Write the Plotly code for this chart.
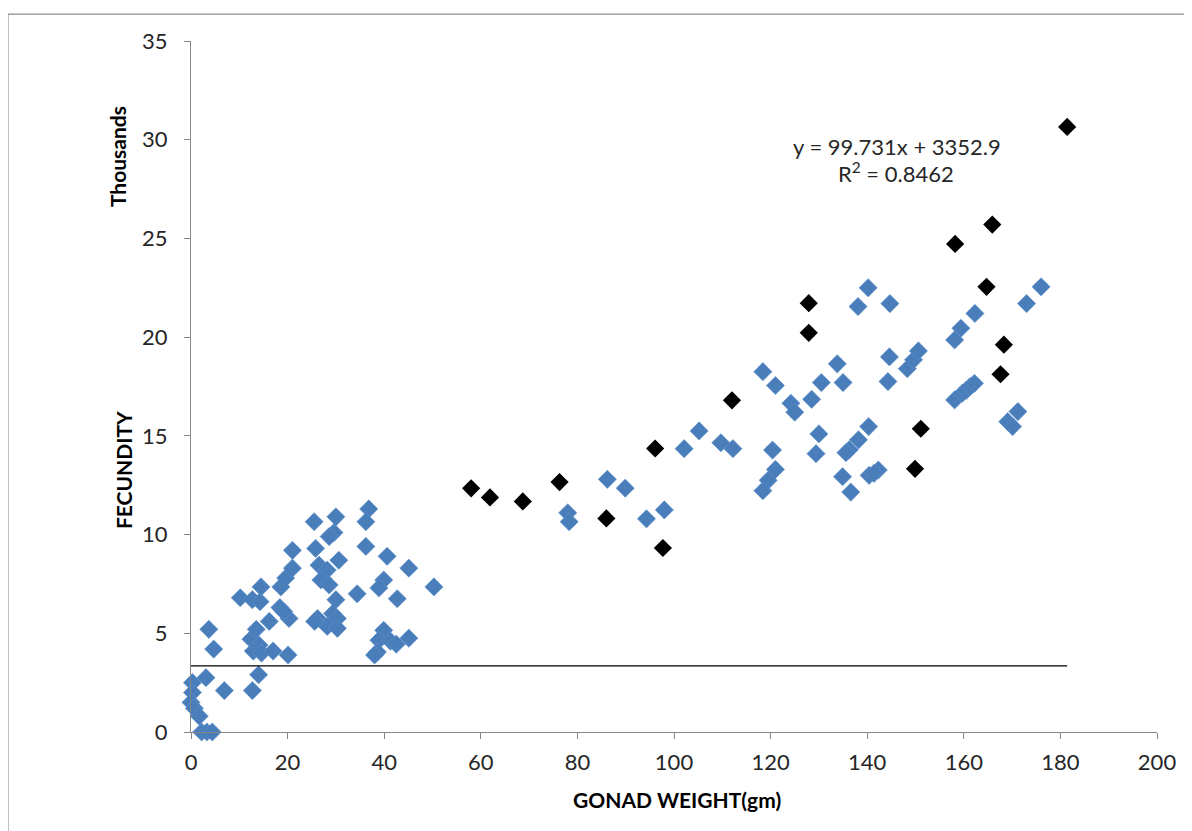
import plotly.graph_objects as go

# Fecundity (thousands) vs gonad weight (gm)
blue_x = [0.3, 3.1, 0.3, 0.0, 0.7, 1.7, 2.2, 3.3, 4.4, 6.9, 12.7, 14.0,
          3.7, 4.7,
          12.4, 13.5, 14.1, 12.9, 14.6, 17.0, 20.1, 16.2, 20.3, 18.4, 19.2,
          10.2, 12.7, 14.3, 14.5, 18.6, 19.6, 21.0, 21.0,
          25.5, 30.0, 36.8, 36.2, 29.6, 28.6, 25.8, 36.2, 40.6, 45.1, 30.6, 26.5, 28.2,
          26.9, 28.6, 39.9, 38.9, 34.4, 42.7, 50.3,
          30.0, 29.3, 30.3, 26.2, 28.2, 30.3, 25.6,
          39.9, 38.9, 41.3, 45.1, 38.6, 38.0, 42.5,
          78.0, 78.3, 86.2, 89.9, 94.3, 98.0,
          102.1, 105.2, 109.7, 112.2,
          118.4, 121.0, 124.2, 125.0, 128.5, 130.5, 133.8, 135.0,
          120.4, 121.0, 119.5, 118.4,
          130.0, 129.4,
          140.3, 138.2, 136.3, 135.6, 134.9, 136.6, 140.4, 142.3, 141.4,
          140.2, 138.1, 144.7, 144.6, 144.3, 148.3, 149.6, 150.6,
          162.3, 159.4, 158.1, 158.1, 159.7, 160.5, 161.3, 162.2,
          169.1, 170.1, 171.2, 176.0, 173.0]
blue_y = [2.5, 2.75, 2.0, 1.5, 1.2, 0.8, 0.0, 0.0, 0.0, 2.1, 2.1, 2.9,
          5.2, 4.2,
          4.7, 5.2, 4.4, 4.1, 4.0, 4.1, 3.9, 5.6, 5.75, 6.3, 6.1,
          6.8, 6.7, 6.6, 7.35, 7.35, 7.8, 8.3, 9.2,
          10.65, 10.9, 11.3, 10.65, 10.1, 9.9, 9.3, 9.4, 8.9, 8.3, 8.7, 8.45, 8.2,
          7.7, 7.45, 7.7, 7.3, 7.0, 6.75, 7.35,
          6.7, 6.0, 5.75, 5.75, 5.35, 5.25, 5.6,
          5.15, 4.65, 4.6, 4.75, 4.05, 3.9, 4.45,
          11.1, 10.65, 12.8, 12.35, 10.8, 11.25,
          14.35, 15.25, 14.65, 14.35,
          18.25, 17.55, 16.65, 16.2, 16.85, 17.7, 18.65, 17.7,
          14.28, 13.3, 12.75, 12.22,
          15.1, 14.1,
          15.47, 14.8, 14.3, 14.15, 12.93, 12.15, 13.0, 13.27, 13.1,
          22.5, 21.55, 21.7, 19.0, 17.75, 18.4, 18.85, 19.3,
          21.2, 20.45, 19.86, 16.82, 17.16, 17.3, 17.5, 17.66,
          15.72, 15.47, 16.23, 22.55, 21.7]

black_x = [181.4, 165.9, 158.2, 164.7, 127.9, 127.9, 168.3, 167.6, 112.0,
           151.1, 149.9, 96.1, 76.3, 58.0, 61.9, 68.7, 86.0, 97.7]
black_y = [30.65, 25.7, 24.72, 22.55, 21.72, 20.22, 19.62, 18.12, 16.8,
           15.36, 13.33, 14.36, 12.66, 12.34, 11.88, 11.68, 10.82, 9.32]

x_ticks = [0, 20, 40, 60, 80, 100, 120, 140, 160, 180, 200]
y_ticks = [0, 5, 10, 15, 20, 25, 30, 35]

trend_slope = 99.731
trend_intercept = 3352.9
r_squared = 0.8462

all_x = blue_x + black_x
trend_x = [min(all_x), max(all_x)]
# Trendline as drawn on the chart (flat at the intercept, in thousands)
trend_y = [trend_intercept / 1000.0] * 2

font_family = "Lato, Open Sans, sans-serif"
axis_grey = "#868686"
text_col = "#262626"

fig = go.Figure()
fig.add_trace(go.Scatter(
    x=blue_x, y=blue_y, mode="markers", cliponaxis=False,
    marker=dict(symbol="diamond", size=14, color="#4A7EBB",
                line=dict(width=0.6, color="#5A8ECB")),
    showlegend=False, hoverinfo="x+y"))
fig.add_trace(go.Scatter(
    x=black_x, y=black_y, mode="markers", cliponaxis=False,
    marker=dict(symbol="diamond", size=14, color="#000000",
                line=dict(width=0)),
    showlegend=False, hoverinfo="x+y"))
fig.add_trace(go.Scatter(
    x=trend_x, y=trend_y, mode="lines",
    line=dict(color="#000000", width=1.2),
    showlegend=False, hoverinfo="skip"))

fig.update_layout(
    width=1184, height=823,
    margin=dict(l=183, r=35, t=33, b=99),
    paper_bgcolor="white", plot_bgcolor="white",
    font=dict(family=font_family, color=text_col, size=22),
    xaxis=dict(range=[0, 200], tickvals=x_ticks, showgrid=False, zeroline=False,
               showline=True, linecolor=axis_grey, linewidth=1.3,
               ticks="outside", ticklen=6, tickcolor=axis_grey,
               tickfont=dict(size=22, color=text_col), ticklabelstandoff=4),
    yaxis=dict(range=[0, 35], tickvals=y_ticks, showgrid=False, zeroline=False,
               showline=True, linecolor=axis_grey, linewidth=1.3,
               ticks="outside", ticklen=6, tickcolor=axis_grey,
               tickfont=dict(size=22, color=text_col), ticklabelstandoff=12),
)

ann_common = dict(xref="paper", yref="paper", showarrow=False,
                  xanchor="center", yanchor="middle")

fig.add_annotation(
    text="y = %.3fx + %.1f" % (trend_slope, trend_intercept),
    x=0.731, y=0.847, font=dict(size=22, color=text_col, family=font_family),
    **ann_common)
fig.add_annotation(
    text="R<sup>2</sup> = %.4f" % r_squared,
    x=0.730, y=0.810, font=dict(size=22, color=text_col, family=font_family),
    **ann_common)

fig.add_annotation(text="<b>FECUNDITY</b>", x=-0.0704, y=0.379, textangle=-90,
                   font=dict(size=21, color="#000000", family=font_family),
                   **ann_common)
fig.add_annotation(text="<b>Thousands</b>", x=-0.0766, y=0.832, textangle=-90,
                   font=dict(size=21, color="#000000", family=font_family),
                   **ann_common)
fig.add_annotation(text="<b>GONAD WEIGHT(gm)</b>", x=0.503, y=-0.0984,
                   font=dict(size=21, color="#000000", family=font_family),
                   **ann_common)

# chart area border (top and left edges visible)
fig.add_shape(type="line", xref="paper", yref="paper",
              x0=-0.1895, x1=1.05, y0=1.039, y1=1.039,
              line=dict(color="#8c8c8c", width=1.2))
fig.add_shape(type="line", xref="paper", yref="paper",
              x0=-0.1895, x1=-0.1895, y0=-0.16, y1=1.039,
              line=dict(color="#8c8c8c", width=1.2))

fig.write_html("out.html")
